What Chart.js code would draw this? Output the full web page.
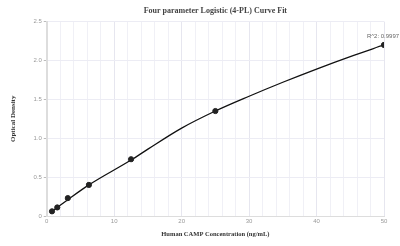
<!DOCTYPE html>
<html>
<head>
<meta charset="utf-8">
<script src="https://cdn.jsdelivr.net/npm/chart.js@4"></script>
<style>
  html, body { margin: 0; padding: 0; background: #fff; }
</style>
</head>
<body>
<canvas id="chart" width="400" height="246"></canvas>
<script>
// standards (measured)
const concX = [0.78, 1.56, 3.125, 6.25, 12.5, 25, 50];
const odY = [0.06, 0.11, 0.23, 0.40, 0.73, 1.35, 2.2];

// fitted curve
const fitX = [0.78, 1.56, 3.125, 6.25, 12.5, 15, 20, 25, 30, 35, 40, 45, 50];
const fitY = [0.06, 0.11, 0.21, 0.40, 0.72, 0.86, 1.13, 1.35, 1.54, 1.72, 1.89, 2.05, 2.2];

const r2Label = 'R^2: 0.9997';

const serif = '"Liberation Serif", "DejaVu Serif", serif';
const sans = '"Liberation Sans", Arial, sans-serif';

const r2Plugin = {
    id: 'r2',
    afterDatasetsDraw(chart) {
        const { ctx, scales } = chart;
        const i = concX.length - 1;
        const px = scales.x.getPixelForValue(concX[i]);
        const py = scales.y.getPixelForValue(odY[i]);
        ctx.save();
        ctx.font = '6px ' + sans;
        ctx.fillStyle = '#666';
        ctx.textAlign = 'center';
        ctx.textBaseline = 'bottom';
        ctx.fillText(r2Label, px - 1, py - 6);
        ctx.restore();
    }
};

new Chart(document.getElementById('chart'), {
    type: 'scatter',
    data: {
        datasets: [
            {
                label: 'Fit',
                data: fitX.map((x, i) => ({ x: x, y: fitY[i] })),
                showLine: true,
                borderColor: '#111',
                borderWidth: 1.3,
                pointRadius: 0,
                cubicInterpolationMode: 'monotone',
                order: 2
            },
            {
                label: 'Standards',
                data: concX.map((x, i) => ({ x: x, y: odY[i] })),
                showLine: false,
                backgroundColor: '#222',
                borderColor: '#222',
                pointRadius: 2.6,
                order: 1
            }
        ]
    },
    options: {
        responsive: false,
        animation: false,
        layout: { padding: { left: 9, right: 16, top: 0, bottom: 8 } },
        plugins: {
            legend: { display: false },
            tooltip: { enabled: false },
            title: {
                display: true,
                fullSize: false,
                text: 'Four parameter Logistic (4-PL) Curve Fit',
                color: '#444',
                font: { family: serif, size: 8, weight: 'bold' },
                padding: { top: 6, bottom: 6 }
            }
        },
        scales: {
            x: {
                type: 'linear',
                min: 0,
                max: 50,
                ticks: {
                    stepSize: 2,
                    autoSkip: false,
                    maxRotation: 0,
                    color: '#999',
                    font: { family: sans, size: 6 },
                    padding: 2,
                    callback: v => (v % 10 === 0 ? v : '')
                },
                grid: {
                    color: ctx => (ctx.tick && ctx.tick.value % 10 === 0 ? '#e6e6ef' : '#f0f0f6'),
                    drawTicks: false
                },
                border: { color: '#ddd', width: 1 },
                title: {
                    display: true,
                    text: 'Human CAMP Concentration (ng/mL)',
                    color: '#333',
                    font: { family: serif, size: 6.5, weight: 'bold' },
                    padding: { top: 3, bottom: 0 }
                }
            },
            y: {
                min: 0,
                max: 2.5,
                ticks: {
                    stepSize: 0.5,
                    color: '#999',
                    font: { family: sans, size: 6 },
                    padding: 2
                },
                grid: {
                    color: '#ececf4',
                    tickLength: 3,
                    tickColor: '#bbb'
                },
                border: { color: '#ddd', width: 2 },
                title: {
                    display: true,
                    text: 'Optical Density',
                    color: '#333',
                    font: { family: serif, size: 7, weight: 'bold' },
                    padding: { top: 0, bottom: 14 }
                }
            }
        }
    },
    plugins: [r2Plugin]
});
</script>
</body>
</html>
